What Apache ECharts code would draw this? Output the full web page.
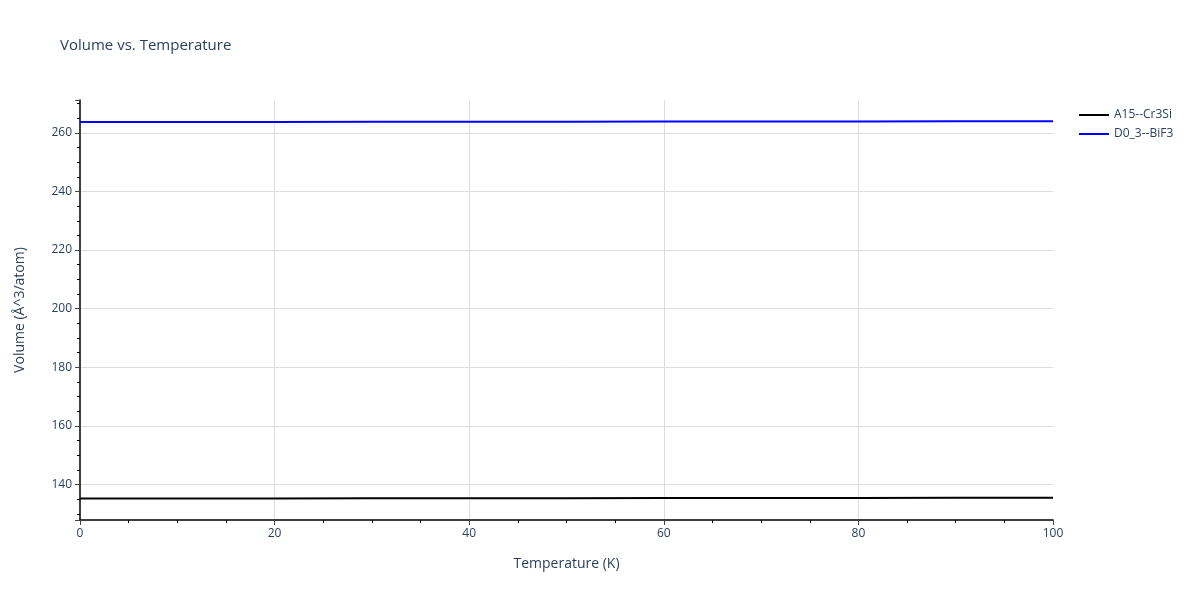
<!DOCTYPE html>
<html>
<head>
<meta charset="utf-8">
<script src="https://cdn.jsdelivr.net/npm/echarts@6/dist/echarts.min.js"></script>
<style>html,body{margin:0;padding:0;background:#fff}#c{width:1200px;height:600px}</style>
</head>
<body>
<div id="c"></div>
<script>
var temperatures = [0, 10, 20, 30, 40, 50, 60, 70, 80, 90, 100];
var a15Cr3Si = [135.20, 135.22, 135.25, 135.28, 135.31, 135.34, 135.37, 135.40, 135.43, 135.46, 135.50];
var d03BiF3 = [263.67, 263.69, 263.72, 263.75, 263.78, 263.81, 263.84, 263.87, 263.90, 263.94, 263.98];
var seriesNames = ['A15--Cr3Si', 'D0_3--BiF3'];
var xTicks = [0, 20, 40, 60, 80, 100];

function pairs(xs, ys) { return xs.map(function (x, i) { return [x, ys[i]]; }); }

var txt = '#2a3f5f';
var chart = echarts.init(document.getElementById('c'));
chart.setOption({
  animation: false,
  textStyle: { fontFamily: '"Open Sans", Arial, sans-serif' },
  title: {
    text: 'Volume vs. Temperature',
    left: 55, top: 33,
    textStyle: { fontSize: 15, fontWeight: 'normal', color: txt, fontFamily: '"Open Sans", Arial, sans-serif' }
  },
  legend: {
    orient: 'vertical', left: 1074, top: 104, itemGap: 7,
    itemWidth: 30, itemHeight: 2, icon: 'rect',
    textStyle: { fontSize: 12, color: txt },
    data: seriesNames
  },
  grid: { left: 80, right: 147, top: 100, bottom: 80, containLabel: false },
  xAxis: {
    type: 'value', min: 0, max: 100, interval: 20,
    name: 'Temperature (K)', nameLocation: 'middle', nameGap: 37,
    nameTextStyle: { fontSize: 14, color: txt },
    axisLine: { show: true, lineStyle: { color: '#000', width: 1.5 } },
    axisTick: { show: true, length: 5, lineStyle: { color: '#444' } },
    minorTick: { show: true, splitNumber: 4, length: 3, lineStyle: { color: '#000' } },
    axisLabel: { fontSize: 12, color: txt, margin: 8,
      formatter: function (v) { return xTicks.indexOf(v) >= 0 ? String(v) : ''; } },
    splitLine: { show: true, showMinLine: false, showMaxLine: false, lineStyle: { color: '#dddddd', width: 1 } }
  },
  yAxis: {
    type: 'value', min: 127.9, max: 271.2, splitNumber: 7,
    name: 'Volume (Å^3/atom)', nameLocation: 'middle', nameGap: 53,
    nameTextStyle: { fontSize: 14, color: txt },
    axisLine: { show: true, onZero: false, lineStyle: { color: '#000', width: 1.5 } },
    axisTick: { show: true, length: 5, lineStyle: { color: '#444' } },
    minorTick: { show: true, splitNumber: 4, length: 3, lineStyle: { color: '#000' } },
    axisLabel: { fontSize: 12, color: txt, margin: 8, showMinLabel: false, showMaxLabel: false },
    splitLine: { show: true, showMinLine: false, showMaxLine: false, lineStyle: { color: '#dddddd', width: 1 } }
  },
  series: [
    { name: seriesNames[0], type: 'line', data: pairs(temperatures, a15Cr3Si), showSymbol: false,
      lineStyle: { color: '#000', width: 2 }, itemStyle: { color: '#000' } },
    { name: seriesNames[1], type: 'line', data: pairs(temperatures, d03BiF3), showSymbol: false,
      lineStyle: { color: '#0000ff', width: 2 }, itemStyle: { color: '#0000ff' } }
  ]
});
</script>
</body>
</html>
